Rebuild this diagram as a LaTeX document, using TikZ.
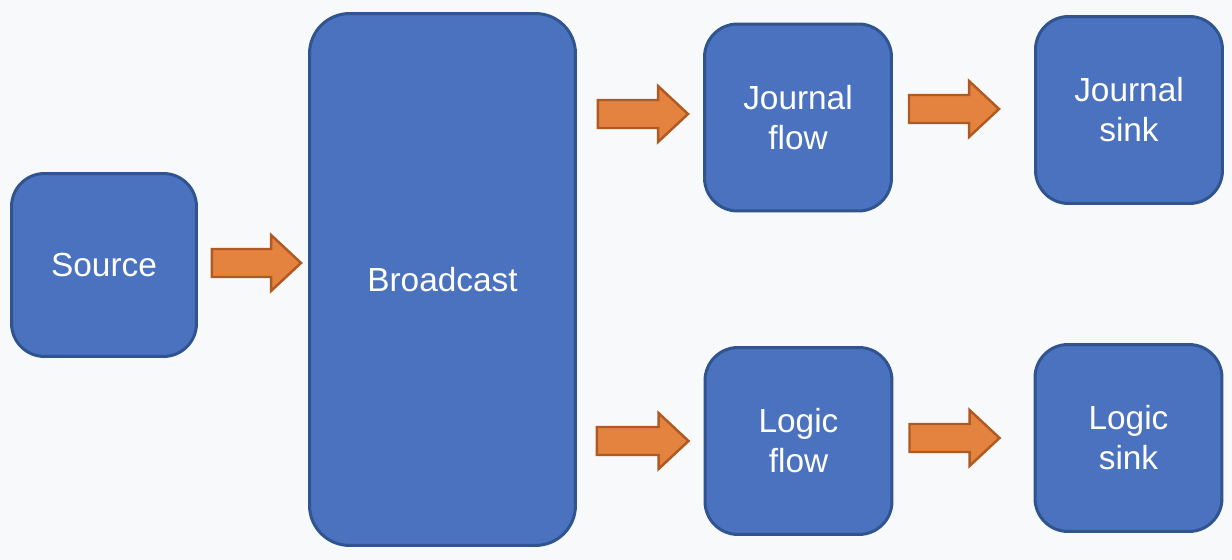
\documentclass[tikz,border=0pt]{standalone}
\usepackage{fontspec}
\setmainfont{Liberation Sans}
\usetikzlibrary{calc}

\definecolor{boxfill}{HTML}{4A72BE}
\definecolor{boxline}{HTML}{30548F}
\definecolor{arrowfill}{HTML}{E48240}
\definecolor{arrowline}{HTML}{AE5A22}
\definecolor{bgcolor}{HTML}{F8F9FB}

\tikzset{
	block/.style={draw=boxline, fill=boxfill, line width=1.7pt, rounded corners=0.66cm,
		text=white, align=center, font=\fontsize{19}{22.7}\selectfont,
		minimum width=3.74cm, minimum height=3.74cm, inner sep=0pt},
	blockarrow/.style={draw=arrowline, fill=arrowfill, line width=1.4pt, line join=miter,
		to path={($(\tikztostart)+(0,-14)$) -- ($(\tikztotarget)+(-30,-14)$)
			-- ($(\tikztotarget)+(-30,-28)$) -- (\tikztotarget)
			-- ($(\tikztotarget)+(-30,28)$) -- ($(\tikztotarget)+(-30,14)$)
			-- ($(\tikztostart)+(0,14)$) -- cycle}}
}

\begin{document}
\begin{tikzpicture}[x=0.02cm,y=-0.02cm]
	
	% Background
	\fill[bgcolor] (0,0) rectangle (1232,560);
	
	% Draw nodes
	\node[block, minimum width=3.7cm, minimum height=3.66cm] (src) at (104,265) {Source};
	\node[block, minimum width=5.32cm, minimum height=10.64cm, rounded corners=0.8cm] (bc) at (442.5,279.5) {Broadcast};
	\node[block] (jf) at (798,117.5) {Journal\\flow};
	\node[block] (js) at (1129,110) {Journal\\sink};
	\node[block] (lf) at (798.5,441) {Logic\\flow};
	\node[block] (ls) at (1128.5,438) {Logic\\sink};
	
	% Draw arrows
	\draw[blockarrow] ($(src.east)+(14,-2)$) to ($(bc.west |- src.east)+(-7,-2)$);
	\draw[blockarrow] ($(bc.east |- jf.west)+(21,-3.5)$) to ($(jf.west)+(-15,-3.5)$);
	\draw[blockarrow] ($(jf.east |- js.west)+(16,-1)$) to ($(js.west)+(-35,-1)$);
	\draw[blockarrow] ($(bc.east |- lf.west)+(20,0)$) to ($(lf.west)+(-15,0)$);
	\draw[blockarrow] ($(lf.east |- ls.west)+(16,0)$) to ($(ls.west)+(-34,0)$);
	
\end{tikzpicture}
\end{document}
